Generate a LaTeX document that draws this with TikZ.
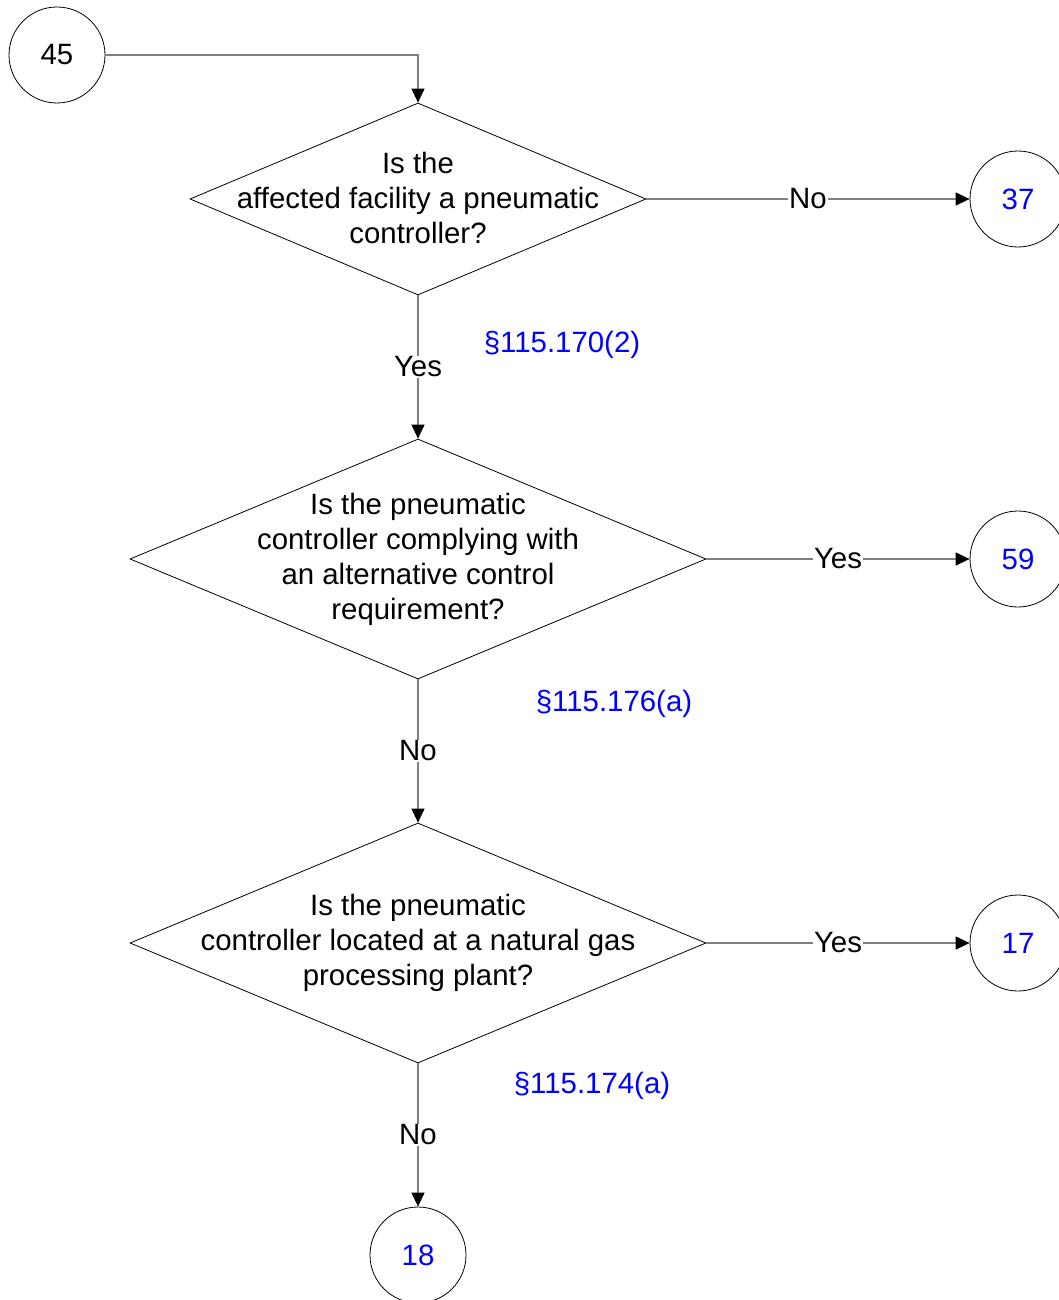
\documentclass[tikz,border=0pt]{standalone}
\usepackage{fontspec}
\setmainfont{Liberation Sans}
\usetikzlibrary{shapes.geometric, arrows.meta, positioning}

\begin{document}
\begin{tikzpicture}[x=1pt, y=-1pt,
    every node/.style={font=\fontsize{29.4}{35}\selectfont},
    conn/.style={draw=gray, line width=1.3pt, -{Triangle[color=black, fill=black, length=14pt, width=13pt]}},
    decision/.style={diamond, draw, line width=0.8pt, inner sep=0pt},
    offpage/.style={circle, draw, line width=0.8pt, minimum size=96pt, inner sep=0pt},
    answer/.style={fill=white, inner sep=1pt},
    rule/.style={text=blue}]
    \clip (0,0) rectangle (1059,1300);

    % Off-page connectors
    \node[offpage] (c45) at (57,55) {45};
    \node[offpage, text=blue] (c37) at (1018,199) {37};
    \node[offpage, text=blue] (c59) at (1018,559) {59};
    \node[offpage, text=blue] (c17) at (1018,943) {17};
    \node[offpage, text=blue] (c18) at (418,1255) {18};

    % Decisions
    \node[decision, minimum width=456pt, minimum height=192pt,
        label={[align=center, yshift=1pt]center:Is the\\affected facility a pneumatic\\controller?}] (q1) at (418,199) {};
    \node[decision, minimum width=576pt, minimum height=240pt,
        label={[align=center]center:Is the pneumatic\\controller complying with\\an alternative control\\requirement?}] (q2) at (418,559) {};
    \node[decision, minimum width=576pt, minimum height=240pt,
        label={[align=center]center:Is the pneumatic\\controller located at a natural gas\\processing plant?}] (q3) at (418,943) {};

    % Rule references
    \node[rule] (r1) at (562,345) {§115.170(2)};
    \node[rule] (r2) at (614,704) {§115.176(a)};
    \node[rule] (r3) at (592,1086) {§115.174(a)};

    % Connectors
    \draw[conn] (c45) -| (q1);
    \draw[conn] (q1) -- node[answer] {No} (c37);
    \draw[conn] (q1) -- node[answer] {Yes} (q2);
    \draw[conn] (q2) -- node[answer] {Yes} (c59);
    \draw[conn] (q2) -- node[answer] {No} (q3);
    \draw[conn] (q3) -- node[answer] {Yes} (c17);
    \draw[conn] (q3) -- node[answer] {No} (c18);
\end{tikzpicture}
\end{document}
